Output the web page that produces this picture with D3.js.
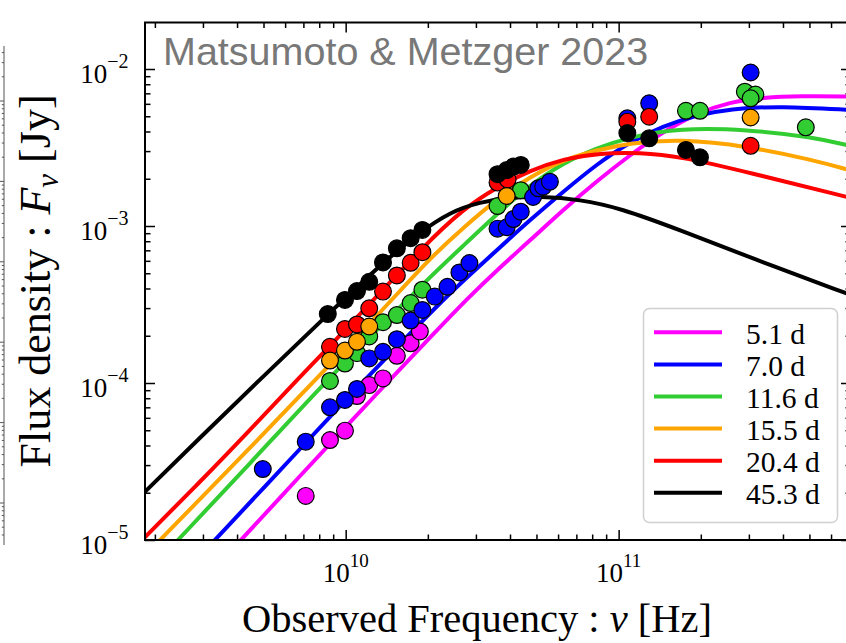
<!DOCTYPE html>
<html><head><meta charset="utf-8">
<script src="https://cdn.jsdelivr.net/npm/d3@7"></script>
<style>body{margin:0;background:#fff} svg{display:block}</style>
</head><body>
<svg id="c" width="846" height="643"></svg>
<script>
// ---------- DATA (frequency in GHz, flux density in mJy) ----------
const epochs = ["5.1 d", "7.0 d", "11.6 d", "15.5 d", "20.4 d", "45.3 d"];
const colors = ["#ff00ff", "#0000ff", "#32cd32", "#ffa500", "#ff0000", "#000000"];

const obs_5_1 = [[7.14,0.0191],[8.76,0.0433],[9.94,0.0497],[11.0,0.0826],[12.2,0.097],[13.7,0.107],[15.4,0.149],[17.3,0.179],[18.7,0.213]];
const obs_7_0 = [[4.97,0.0283],[7.14,0.0423],[8.76,0.070],[9.94,0.078],[11.0,0.0916],[12.2,0.1435],[13.7,0.158],[15.4,0.190],[17.3,0.250],[19.1,0.292],[21.2,0.355],[23.6,0.410],[26.1,0.506],[28.4,0.581],[36.0,0.962],[38.9,0.982],[41.2,1.108],[43.8,1.233],[48.6,1.53],[50.8,1.738],[52.9,1.780],[56.0,1.915],[107.6,4.85],[129.4,6.05],[304.5,9.50]];
const obs_11_6 = [[8.76,0.103],[9.94,0.133],[11.0,0.155],[12.2,0.198],[13.7,0.244],[15.4,0.271],[17.3,0.323],[19.1,0.393],[36.0,1.34],[43.8,1.69],[176.4,5.42],[198.6,5.42],[290,7.17],[317,6.88],[304.5,6.51],[485,4.25]];
const obs_15_5 = [[8.76,0.139],[9.94,0.161],[11.0,0.183],[12.2,0.229],[38.9,1.553],[304.5,4.91]];
const obs_20_4 = [[8.76,0.170],[9.94,0.221],[11.0,0.236],[12.2,0.299],[13.7,0.382],[15.4,0.484],[17.3,0.583],[19.1,0.681],[36.0,1.89],[39.2,1.98],[107.6,4.62],[129.4,4.97],[304.5,3.24]];
const obs_45_3 = [[8.6,0.275],[9.94,0.338],[11.0,0.385],[12.2,0.441],[13.7,0.586],[15.4,0.721],[17.3,0.836],[19.1,0.944],[36.0,2.14],[38.9,2.27],[41.2,2.39],[43.8,2.45],[107.6,3.91],[129.4,3.62],[176.4,3.05],[198.6,2.74]];

const model_5_1 = [[3.80,0.00855],[4.135,0.01],[6.80,0.02556],[9.53,0.04803],[12.27,0.0768],[22.15,0.2273],[27.82,0.3428],[35.84,0.5245],[47.33,0.8085],[62.52,1.264],[83.27,1.935],[110.0,2.833],[145.3,3.970],[193.6,5.245],[255.6,6.164],[337.8,6.584],[461.6,6.730],[709.6,6.680]];
const model_7_0 = [[3.05,0.00856],[3.32,0.01],[6.80,0.03799],[9.53,0.07139],[13.36,0.1321],[22.15,0.3233],[26.90,0.4465],[35.84,0.7033],[47.33,1.092],[62.52,1.647],[83.27,2.482],[110.0,3.428],[145.3,4.334],[193.6,5.093],[255.6,5.563],[389.8,5.813],[709.6,5.482]];
const model_11_6 = [[2.234,0.00857],[2.431,0.01],[4.462,0.03072],[8.54,0.1045],[13.36,0.2273],[20.36,0.4733],[26.90,0.7459],[35.84,1.192],[47.33,1.824],[62.52,2.519],[83.27,3.140],[110.0,3.690],[167.7,4.209],[295.1,4.118],[514.8,3.690],[709.6,3.233]];
const model_15_5 = [[1.920,0.00857],[2.089,0.01],[2.926,0.01824],[4.462,0.03855],[7.72,0.1045],[13.36,0.2792],[20.36,0.6254],[26.90,0.9712],[35.84,1.486],[47.33,2.052],[62.52,2.633],[83.27,3.049],[110.0,3.379],[167.7,3.582],[295.1,3.233],[514.8,2.633],[709.6,2.256]];
const model_20_4 = [[1.691,0.00896],[1.840,0.01045],[2.926,0.02341],[4.462,0.0502],[6.63,0.1045],[8.76,0.1721],[13.36,0.3744],[19.20,0.735],[26.90,1.283],[35.84,1.772],[47.33,2.256],[62.52,2.672],[85.41,2.917],[119.7,2.939],[167.7,2.772],[295.1,2.208],[709.6,1.508]];
const model_45_3 = [[1.691,0.01757],[1.840,0.0203],[2.926,0.04483],[4.855,0.1053],[8.05,0.2446],[13.36,0.5643],[18.72,0.9158],[24.11,1.228],[31.04,1.422],[39.98,1.519],[51.48,1.546],[72.15,1.475],[101.1,1.302],[167.7,0.943],[302.7,0.630],[709.6,0.3635]];

const xMajorExps = [10, 11];
const yMajorExps = [-5, -4, -3, -2];
const titleText = "Matsumoto & Metzger 2023";

// ---------- LAYOUT ----------
const svg = d3.select("#c");
const L = 145, R = 851, T = 22.5, B = 540;
const x = d3.scaleLog().domain([1.84e9, 7.1e11]).range([L, R]);
const y = d3.scaleLog().domain([1e-5, 0.01978]).range([B, T]);
const serif = "'Liberation Serif','Times New Roman',Times,serif";

// left neighbouring-panel remnant
(function(){
  const g = svg.append("g").attr("stroke", "#555").attr("stroke-width", 1);
  g.append("line").attr("x1", 4).attr("x2", 4).attr("y1", 46).attr("y2", 545);
  for (let i = -1; i < 6; i++) {
    const y0 = 101 + 80.4 * i;
    if (y0 > 46 && y0 < 545) g.append("line").attr("x1", 0).attr("x2", 4).attr("y1", y0).attr("y2", y0);
    for (let m = 2; m < 10; m++) {
      const yy = y0 + 80.4 - 80.4 * Math.log10(m);
      if (yy > 46 && yy < 545) g.append("line").attr("x1", 1.8).attr("x2", 4).attr("y1", yy).attr("y2", yy);
    }
  }
})();

svg.append("defs").append("clipPath").attr("id", "plotclip")
  .append("rect").attr("x", L).attr("y", T).attr("width", R - L).attr("height", B - T);

// ---------- MODEL CURVES ----------
const models = [model_5_1, model_7_0, model_11_6, model_15_5, model_20_4, model_45_3];
const obs = [obs_5_1, obs_7_0, obs_11_6, obs_15_5, obs_20_4, obs_45_3];
const line = d3.line().x(d => x(d[0] * 1e9)).y(d => y(d[1] * 1e-3)).curve(d3.curveBasis);
const gc = svg.append("g").attr("clip-path", "url(#plotclip)");
models.forEach((m, i) => {
  gc.append("path").attr("d", line(m)).attr("fill", "none")
    .attr("stroke", colors[i]).attr("stroke-width", 4);
});

// ---------- DATA POINTS ----------
const drawOrder = [0, 2, 1, 4, 3, 5];
drawOrder.forEach(i => {
  gc.append("g").selectAll("circle").data(obs[i]).join("circle")
    .attr("cx", d => x(d[0] * 1e9)).attr("cy", d => y(d[1] * 1e-3)).attr("r", 8.4)
    .attr("fill", colors[i]).attr("stroke", "#000").attr("stroke-width", 1.2);
});

// ---------- AXES ----------
function logTicks(lo, hi) {
  const major = [], minor = [];
  for (let e = Math.floor(Math.log10(lo)) - 1; e <= Math.ceil(Math.log10(hi)); e++) {
    for (let m = 1; m < 10; m++) {
      const v = m * Math.pow(10, e);
      if (v < lo * 0.999 || v > hi * 1.001) continue;
      (m === 1 ? major : minor).push(v);
    }
  }
  return {major, minor};
}
const xt = logTicks(x.domain()[0], x.domain()[1]);
const yt = logTicks(y.domain()[0], y.domain()[1]);
function addAxis(axisFn, scale, vals, size, tr) {
  const g = svg.append("g").attr("transform", tr)
    .call(axisFn(scale).tickValues(vals).tickSize(size).tickSizeOuter(0).tickFormat(""));
  g.select(".domain").remove();
  g.selectAll(".tick line").attr("stroke", "#000").attr("stroke-width", 1.5);
}
addAxis(d3.axisBottom, x, xt.major, -10, `translate(0,${B})`);
addAxis(d3.axisBottom, x, xt.minor, -5.5, `translate(0,${B})`);
addAxis(d3.axisTop, x, xt.major, -10, `translate(0,${T})`);
addAxis(d3.axisTop, x, xt.minor, -5.5, `translate(0,${T})`);
addAxis(d3.axisLeft, y, yt.major, -10, `translate(${L},0)`);
addAxis(d3.axisLeft, y, yt.minor, -5.5, `translate(${L},0)`);
addAxis(d3.axisRight, y, yt.major, -10, `translate(${R},0)`);
addAxis(d3.axisRight, y, yt.minor, -5.5, `translate(${R},0)`);

svg.append("rect").attr("x", L).attr("y", T).attr("width", R - L).attr("height", B - T)
  .attr("fill", "none").attr("stroke", "#000").attr("stroke-width", 2);

// tick labels
xMajorExps.forEach(e => {
  const t = svg.append("text").attr("x", x(Math.pow(10, e))).attr("y", B + 41.7)
    .attr("text-anchor", "middle").attr("font-family", serif).attr("font-size", 27).attr("fill", "#000");
  t.append("tspan").text("10");
  t.append("tspan").attr("dy", -15).attr("font-size", 19).text(String(e));
});
yMajorExps.forEach(e => {
  const t = svg.append("text").attr("x", 128.5).attr("y", y(Math.pow(10, e)) + 14)
    .attr("text-anchor", "end").attr("font-family", serif).attr("font-size", 27).attr("fill", "#000");
  t.append("tspan").text("10");
  t.append("tspan").attr("dy", -15).attr("font-size", 20).text("\u2212" + Math.abs(e));
});

// axis titles
const xl = svg.append("text").attr("x", 477).attr("y", 631.5).attr("text-anchor", "middle")
  .attr("font-family", serif).attr("font-size", 40.5).attr("fill", "#000");
xl.append("tspan").text("Observed Frequency : ");
xl.append("tspan").attr("font-style", "italic").text("\u03bd");
xl.append("tspan").text(" [Hz]");

const yl = svg.append("text").attr("transform", "translate(50,281) rotate(-90)").attr("text-anchor", "middle")
  .attr("font-family", serif).attr("font-size", 44).attr("fill", "#000");
yl.append("tspan").text("Flux density : ");
yl.append("tspan").attr("font-style", "italic").text("F");
yl.append("tspan").attr("font-style", "italic").attr("font-size", 31).attr("dy", 8).text("\u03bd");
yl.append("tspan").attr("dy", -8).text(" [Jy]");

// title
svg.append("text").attr("x", 163).attr("y", 65).attr("font-family", "'Liberation Sans',Arial,sans-serif")
  .attr("font-size", 39.5).attr("fill", "#787878").text(titleText);

// ---------- LEGEND ----------
const lg = svg.append("g");
lg.append("rect").attr("x", 643.5).attr("y", 308.5).attr("width", 194).attr("height", 214).attr("rx", 6)
  .attr("fill", "#fff").attr("fill-opacity", 0.85).attr("stroke", "#d0d0d0").attr("stroke-width", 1.5);
epochs.forEach((lab, i) => {
  const ly = 332.3 + 32.1 * i;
  lg.append("line").attr("x1", 654).attr("x2", 722).attr("y1", ly).attr("y2", ly)
    .attr("stroke", colors[i]).attr("stroke-width", 4);
  lg.append("text").attr("x", 746).attr("y", ly + 11.5).attr("font-family", serif)
    .attr("font-size", 29.5).attr("fill", "#000").text(lab);
});
</script>
</body></html>
